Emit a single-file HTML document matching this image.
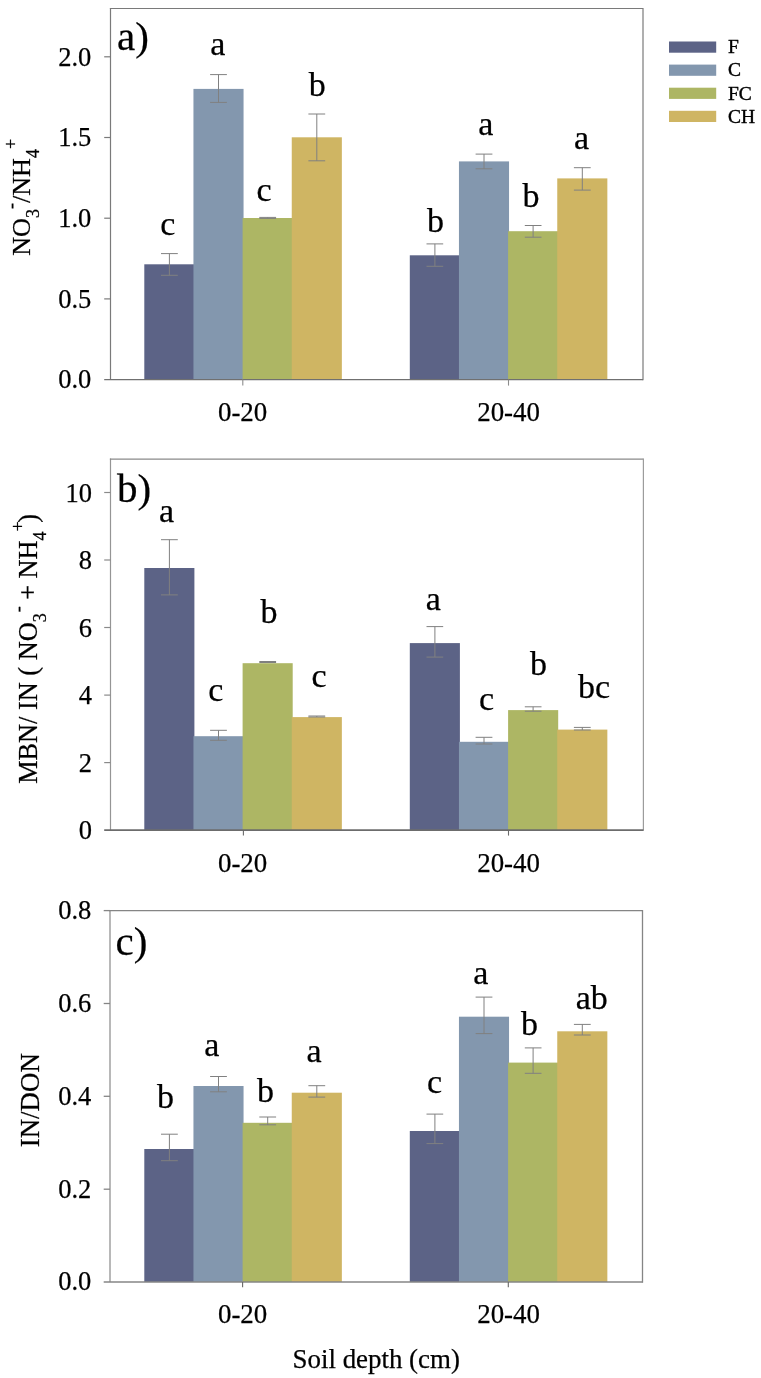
<!DOCTYPE html>
<html><head><meta charset="utf-8"><title>Figure</title>
<style>html,body{margin:0;padding:0;background:#fff}svg{display:block;font-family:"Liberation Serif",serif;fill:#000}svg text{fill:#000;stroke:#000;stroke-width:.25px;stroke-linejoin:round}</style>
</head><body>
<svg width="761" height="1378" viewBox="0 0 761 1378">
<rect width="761" height="1378" fill="#fff"/>
<rect x="144.30" y="264.3" width="50.1" height="115.3" fill="#5c6386"/>
<rect x="193.45" y="88.9" width="50.1" height="290.7" fill="#8397ae"/>
<rect x="242.60" y="218.0" width="50.1" height="161.6" fill="#adb664"/>
<rect x="291.75" y="137.3" width="50.1" height="242.3" fill="#cfb563"/>
<rect x="409.80" y="255.3" width="50.1" height="124.3" fill="#5c6386"/>
<rect x="458.95" y="161.4" width="50.1" height="218.2" fill="#8397ae"/>
<rect x="508.10" y="231.2" width="50.1" height="148.4" fill="#adb664"/>
<rect x="557.25" y="178.4" width="50.1" height="201.2" fill="#cfb563"/>
<g fill="none" stroke="#7a7a7a" stroke-width="1.2">
<path d="M110.5 379.6V7.9" stroke="#7a7a7a"/>
<path d="M109.9 8.5H643.0"/>
<path d="M643.0 7.9V380.20000000000005" stroke="#7a7a7a"/>
<path d="M104.2 379.6H643.0" stroke-width="1.2" stroke="#707070"/>
<path d="M104.2 298.9H110.5"/>
<path d="M104.2 218.2H110.5"/>
<path d="M104.2 137.5H110.5"/>
<path d="M104.2 56.8H110.5"/>
<path d="M242.8 379.6V385.6" stroke="#8c8c8c" stroke-width="1.1"/>
<path d="M508.5 379.6V385.6" stroke="#8c8c8c" stroke-width="1.1"/>
</g>
<g fill="none" stroke="#808080" stroke-width="1">
<path d="M161.0 253.6H177.8M161.0 275.3H177.8M169.4 253.6V275.3"/>
<path d="M210.1 74.6H226.9M210.1 102.4H226.9M218.5 74.6V102.4"/>
<path d="M259.3 217.4H276.1M259.3 218.4H276.1M267.7 217.4V218.4"/>
<path d="M308.4 114.0H325.2M308.4 160.8H325.2M316.8 114.0V160.8"/>
<path d="M426.5 243.9H443.2M426.5 266.3H443.2M434.9 243.9V266.3"/>
<path d="M475.6 154.1H492.4M475.6 168.8H492.4M484.0 154.1V168.8"/>
<path d="M524.8 225.5H541.5M524.8 237.2H541.5M533.1 225.5V237.2"/>
<path d="M573.9 167.7H590.7M573.9 190.1H590.7M582.3 167.7V190.1"/>
</g>
<text x="91.3" y="388.4" font-size="26.5" text-anchor="end">0.0</text>
<text x="91.3" y="307.7" font-size="26.5" text-anchor="end">0.5</text>
<text x="91.3" y="227.0" font-size="26.5" text-anchor="end">1.0</text>
<text x="91.3" y="146.3" font-size="26.5" text-anchor="end">1.5</text>
<text x="91.3" y="65.6" font-size="26.5" text-anchor="end">2.0</text>
<text x="242.6" y="421.0" font-size="26.9" text-anchor="middle">0-20</text>
<text x="508.6" y="421.0" font-size="26.9" text-anchor="middle">20-40</text>
<text x="167.8" y="234.9" font-size="34" text-anchor="middle">c</text>
<text x="217.7" y="54.5" font-size="34" text-anchor="middle">a</text>
<text x="264.1" y="200.9" font-size="34" text-anchor="middle">c</text>
<text x="317.3" y="96.2" font-size="34" text-anchor="middle">b</text>
<text x="435.4" y="232.1" font-size="34" text-anchor="middle">b</text>
<text x="485.8" y="135.3" font-size="34" text-anchor="middle">a</text>
<text x="531.1" y="206.8" font-size="34" text-anchor="middle">b</text>
<text x="581.6" y="149.4" font-size="34" text-anchor="middle">a</text>
<text x="117" y="50" font-size="41">a)</text>
<rect x="144.30" y="568.0" width="50.1" height="262.1" fill="#5c6386"/>
<rect x="193.45" y="736.2" width="50.1" height="93.9" fill="#8397ae"/>
<rect x="242.60" y="663.2" width="50.1" height="166.9" fill="#adb664"/>
<rect x="291.75" y="717.1" width="50.1" height="113.0" fill="#cfb563"/>
<rect x="409.80" y="643.1" width="50.1" height="187.0" fill="#5c6386"/>
<rect x="458.95" y="741.8" width="50.1" height="88.3" fill="#8397ae"/>
<rect x="508.10" y="710.1" width="50.1" height="120.0" fill="#adb664"/>
<rect x="557.25" y="729.6" width="50.1" height="100.5" fill="#cfb563"/>
<g fill="none" stroke="#8a8a8a" stroke-width="1.2">
<path d="M110.5 830.1V458.59999999999997" stroke="#959595"/>
<path d="M109.9 459.2H643.4"/>
<path d="M643.4 458.59999999999997V830.7" stroke="#9c9c9c"/>
<path d="M104.2 830.1H643.4" stroke-width="1.7" stroke="#6c6c6c"/>
<path d="M104.2 762.6H110.5"/>
<path d="M104.2 695.1H110.5"/>
<path d="M104.2 627.5H110.5"/>
<path d="M104.2 560.0H110.5"/>
<path d="M104.2 492.5H110.5"/>
<path d="M243.4 830.1V835.6" stroke="#6a6a6a" stroke-width="1.1"/>
<path d="M508.5 830.1V835.6" stroke="#6a6a6a" stroke-width="1.1"/>
</g>
<g fill="none" stroke="#808080" stroke-width="1">
<path d="M161.0 539.7H177.8M161.0 594.9H177.8M169.4 539.7V594.9"/>
<path d="M210.1 730.3H226.9M210.1 740.3H226.9M218.5 730.3V740.3"/>
<path d="M259.3 661.5H276.1M259.3 662.5H276.1M267.7 661.5V662.5"/>
<path d="M308.4 716.0H325.2M308.4 717.0H325.2M316.8 716.0V717.0"/>
<path d="M426.5 626.6H443.2M426.5 657.1H443.2M434.9 626.6V657.1"/>
<path d="M475.6 737.3H492.4M475.6 744.0H492.4M484.0 737.3V744.0"/>
<path d="M524.8 706.8H541.5M524.8 711.2H541.5M533.1 706.8V711.2"/>
<path d="M573.9 727.4H590.7M573.9 730.0H590.7M582.3 727.4V730.0"/>
</g>
<text x="92.1" y="839.2" font-size="26.5" text-anchor="end">0</text>
<text x="92.1" y="771.7" font-size="26.5" text-anchor="end">2</text>
<text x="92.1" y="704.2" font-size="26.5" text-anchor="end">4</text>
<text x="92.1" y="636.6" font-size="26.5" text-anchor="end">6</text>
<text x="92.1" y="569.1" font-size="26.5" text-anchor="end">8</text>
<text x="92.1" y="501.6" font-size="26.5" text-anchor="end">10</text>
<text x="242.6" y="871.5" font-size="26.9" text-anchor="middle">0-20</text>
<text x="508.6" y="871.5" font-size="26.9" text-anchor="middle">20-40</text>
<text x="166.5" y="522.2" font-size="34" text-anchor="middle">a</text>
<text x="215.8" y="700.5" font-size="34" text-anchor="middle">c</text>
<text x="269.0" y="623.0" font-size="34" text-anchor="middle">b</text>
<text x="319.0" y="686.7" font-size="34" text-anchor="middle">c</text>
<text x="433.2" y="609.9" font-size="34" text-anchor="middle">a</text>
<text x="486.6" y="709.5" font-size="34" text-anchor="middle">c</text>
<text x="538.5" y="675.1" font-size="34" text-anchor="middle">b</text>
<text x="594.0" y="697.5" font-size="34" text-anchor="middle">bc</text>
<text x="117" y="502" font-size="41">b)</text>
<rect x="144.30" y="1149.0" width="50.1" height="133.0" fill="#5c6386"/>
<rect x="193.45" y="1086.0" width="50.1" height="196.0" fill="#8397ae"/>
<rect x="242.60" y="1122.8" width="50.1" height="159.2" fill="#adb664"/>
<rect x="291.75" y="1092.7" width="50.1" height="189.3" fill="#cfb563"/>
<rect x="409.80" y="1131.0" width="50.1" height="151.0" fill="#5c6386"/>
<rect x="458.95" y="1016.7" width="50.1" height="265.3" fill="#8397ae"/>
<rect x="508.10" y="1062.6" width="50.1" height="219.4" fill="#adb664"/>
<rect x="557.25" y="1031.3" width="50.1" height="250.7" fill="#cfb563"/>
<g fill="none" stroke="#858585" stroke-width="1.3">
<path d="M110.0 1282.0V909.95" stroke="#929292"/>
<path d="M109.35 910.6H642.5"/>
<path d="M642.5 909.95V1282.65" stroke="#858585"/>
<path d="M103.7 1282.0H642.5" stroke-width="1.5" stroke="#868686"/>
<path d="M103.7 1189.2H110.0"/>
<path d="M103.7 1096.3H110.0"/>
<path d="M103.7 1003.5H110.0"/>
<path d="M103.7 910.6H110.0"/>
<path d="M242.6 1282.0V1287.2" stroke="#666" stroke-width="1.1"/>
<path d="M508.3 1282.0V1287.2" stroke="#666" stroke-width="1.1"/>
</g>
<g fill="none" stroke="#808080" stroke-width="1">
<path d="M161.0 1134.2H177.8M161.0 1160.7H177.8M169.4 1134.2V1160.7"/>
<path d="M210.1 1076.5H226.9M210.1 1091.8H226.9M218.5 1076.5V1091.8"/>
<path d="M259.3 1117.0H276.1M259.3 1124.8H276.1M267.7 1117.0V1124.8"/>
<path d="M308.4 1085.7H325.2M308.4 1097.1H325.2M316.8 1085.7V1097.1"/>
<path d="M426.5 1114.1H443.2M426.5 1143.6H443.2M434.9 1114.1V1143.6"/>
<path d="M475.6 997.1H492.4M475.6 1033.6H492.4M484.0 997.1V1033.6"/>
<path d="M524.8 1047.9H541.5M524.8 1073.3H541.5M533.1 1047.9V1073.3"/>
<path d="M573.9 1024.4H590.7M573.9 1035.0H590.7M582.3 1024.4V1035.0"/>
</g>
<text x="91.3" y="1290.3" font-size="26.5" text-anchor="end">0.0</text>
<text x="91.3" y="1197.5" font-size="26.5" text-anchor="end">0.2</text>
<text x="91.3" y="1104.6" font-size="26.5" text-anchor="end">0.4</text>
<text x="91.3" y="1011.8" font-size="26.5" text-anchor="end">0.6</text>
<text x="91.3" y="918.9" font-size="26.5" text-anchor="end">0.8</text>
<text x="242.6" y="1323.4" font-size="26.9" text-anchor="middle">0-20</text>
<text x="508.6" y="1323.4" font-size="26.9" text-anchor="middle">20-40</text>
<text x="165.5" y="1107.8" font-size="34" text-anchor="middle">b</text>
<text x="211.7" y="1056.4" font-size="34" text-anchor="middle">a</text>
<text x="265.5" y="1102.4" font-size="34" text-anchor="middle">b</text>
<text x="314.0" y="1061.9" font-size="34" text-anchor="middle">a</text>
<text x="434.6" y="1092.5" font-size="34" text-anchor="middle">c</text>
<text x="480.7" y="983.9" font-size="34" text-anchor="middle">a</text>
<text x="529.4" y="1034.6" font-size="34" text-anchor="middle">b</text>
<text x="591.7" y="1008.8" font-size="34" text-anchor="middle">ab</text>
<text x="115.5" y="954.5" font-size="41">c)</text>
<text transform="translate(30.3 255.8) rotate(-90)" font-size="26.15">NO<tspan font-size="18" dy="8.6">3</tspan><tspan font-size="18" dy="-22">-</tspan><tspan dy="13.4">/NH</tspan><tspan font-size="18" dy="8.6">4</tspan><tspan font-size="18" dy="-22">+</tspan></text>
<text transform="translate(37.4 783.8) rotate(-90)" font-size="26.3">MBN/ IN ( NO<tspan font-size="18" dy="8.6">3</tspan><tspan font-size="18" dy="-22" dx="1">-</tspan><tspan dy="13.4"> + NH</tspan><tspan font-size="18" dy="8.6">4</tspan><tspan font-size="18" dy="-22">+</tspan><tspan dy="13.4" dx="-8"> )</tspan></text>
<text transform="translate(38.7 1147.3) rotate(-90)" font-size="26.9">IN/DON</text>
<text x="292.6" y="1367.5" font-size="26.9">Soil depth (cm)</text>
<rect x="669" y="41.5" width="47.2" height="11.2" fill="#5c6386"/>
<text x="728" y="53.3" font-size="19.5" style="stroke-width:.4px">F</text>
<rect x="669" y="64.6" width="47.2" height="11.2" fill="#8397ae"/>
<text x="728" y="76.4" font-size="19.5" style="stroke-width:.4px">C</text>
<rect x="669" y="87.7" width="47.2" height="11.2" fill="#adb664"/>
<text x="728" y="99.5" font-size="19.5" style="stroke-width:.4px">FC</text>
<rect x="669" y="110.8" width="47.2" height="11.2" fill="#cfb563"/>
<text x="728" y="122.6" font-size="19.5" style="stroke-width:.4px">CH</text>
</svg>
</body></html>
